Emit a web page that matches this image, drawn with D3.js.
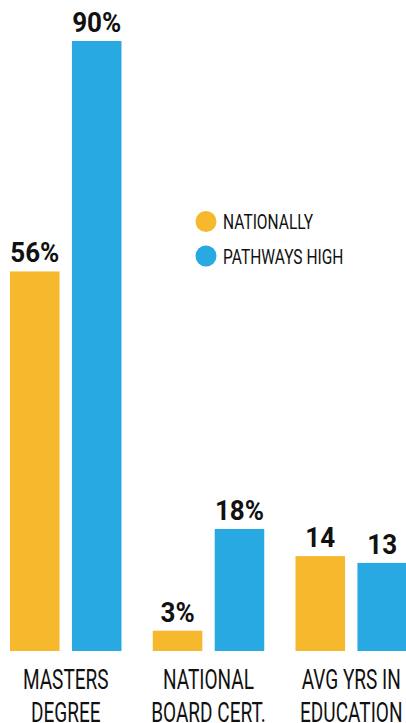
<!DOCTYPE html>
<html>
<head>
<meta charset="utf-8">
<script src="https://cdn.jsdelivr.net/npm/d3@7/dist/d3.min.js"></script>
<style>
  html, body { margin: 0; padding: 0; background: #fff; overflow: hidden; }
  svg { display: block; }
  text { font-family: Roboto, "Noto Sans", sans-serif; fill: #111; }
</style>
</head>
<body>
<svg id="chart" width="406" height="723"></svg>
<script>
// ---- data ----
const categories = ["MASTERS DEGREE", "NATIONAL BOARD CERT.", "AVG YRS IN EDUCATION"];
const categoryLines = [["MASTERS", "DEGREE"], ["NATIONAL", "BOARD CERT."], ["AVG YRS IN", "EDUCATION"]];
const seriesNames = ["NATIONALLY", "PATHWAYS HIGH"];
const nationally = [56, 3, 14];
const pathwaysHigh = [90, 18, 13];
const valueSuffix = ["%", "%", ""];

// ---- styles ----
const colors = { "NATIONALLY": "#F6B92D", "PATHWAYS HIGH": "#28A9E1" };

const svg = d3.select("#chart");
const W = 406, H = 723;
const baseline = 651, topY = 41;

const x0 = d3.scaleBand().domain(categories).range([10, 407]).paddingInner(0.219).paddingOuter(0);
const x1 = d3.scaleBand().domain(seriesNames).range([0, x0.bandwidth()]).paddingInner(0.2).paddingOuter(0);
const y = d3.scaleLinear().domain([0, 90]).range([baseline, topY]);

const rows = [];
categories.forEach((c, i) => {
  rows.push({ cat: c, series: "NATIONALLY", value: nationally[i], label: nationally[i] + valueSuffix[i] });
  rows.push({ cat: c, series: "PATHWAYS HIGH", value: pathwaysHigh[i], label: pathwaysHigh[i] + valueSuffix[i] });
});

svg.append("g").selectAll("rect").data(rows).join("rect")
  .attr("x", d => x0(d.cat) + x1(d.series))
  .attr("y", d => y(d.value))
  .attr("width", x1.bandwidth())
  .attr("height", d => baseline - y(d.value))
  .attr("fill", d => colors[d.series]);

// value labels
const numScale = 0.93;
svg.append("g").selectAll("text").data(rows).join("text")
  .attr("text-anchor", "middle")
  .attr("font-weight", 700)
  .attr("font-size", 28)
  .attr("transform", d => `translate(${x0(d.cat) + x1(d.series) + x1.bandwidth() / 2},${y(d.value) - 9}) scale(${numScale},1)`)
  .text(d => d.label);

// category labels
const catScale = 0.68;
const catG = svg.append("g");
categories.forEach((c, i) => {
  const cx = x0(c) + x0.bandwidth() / 2;
  categoryLines[i].forEach((line, j) => {
    catG.append("text")
      .attr("text-anchor", "middle")
      .attr("font-size", 28)
      .attr("transform", `translate(${cx},${689 + j * 33}) scale(${catScale},1)`)
      .text(line);
  });
});

// legend
const legend = svg.append("g");
seriesNames.forEach((s, i) => {
  const cy = 221.5 + i * 34.5;
  legend.append("circle").attr("cx", 206).attr("cy", cy).attr("r", 10.5).attr("fill", colors[s]);
  legend.append("text")
    .attr("font-size", 21)
    .attr("transform", `translate(223,${cy + 7.8}) scale(0.74,1)`)
    .text(s);
});
</script>
</body>
</html>
